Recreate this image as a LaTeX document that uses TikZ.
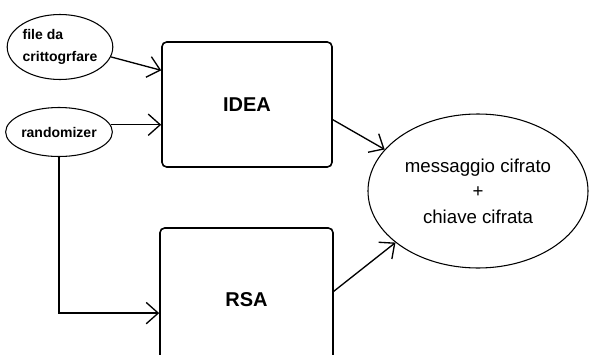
\documentclass[tikz,border=0pt]{standalone}
\usepackage{fontspec}
\setmainfont{Liberation Sans}
\usetikzlibrary{shapes.geometric,arrows.meta,calc}

\begin{document}
\begin{tikzpicture}[x=0.75pt, y=-0.75pt,
  blob/.style={ellipse, draw, line width=0.8pt, inner sep=0pt},
  blocco/.style={draw, line width=1.2pt, rounded corners=3.5pt, font=\bfseries\fontsize{15}{18}\selectfont},
  freccia/.style={line width=1pt, -{Straight Barb[length=9pt,width=16pt]}}]
  \clip (0,0) rectangle (589,354);

  \node[blob, minimum width=75pt, minimum height=48.75pt, align=left,
        font=\bfseries\fontsize{10.5}{16.5}\selectfont] (file) at (60,47) {file da\\crittogrfare};
  \node[blob, minimum width=73.5pt, minimum height=36.75pt,
        font=\bfseries\fontsize{10.5}{13}\selectfont] (rand) at (59,132) {randomizer};

  \node[blocco, minimum width=127.5pt, minimum height=93.75pt] (idea) at (247,104.5) {IDEA};
  \node[blocco, minimum width=129.75pt, minimum height=108pt] (rsa) at (246.5,300) {RSA};

  \node[blob, minimum width=165pt, minimum height=115.5pt, align=center,
        font=\fontsize{14}{19}\selectfont] (msg) at (478,191) {messaggio cifrato\\+\\chiave cifrata};

  \draw[freccia] (file.-11) -- ($(idea.north west)!0.23!(idea.south west)$);
  \draw[freccia] (rand.8) -- (rand.8 -| idea.west);
  \draw[freccia] (rand.south) |- ($(rsa.north west)!0.59!(rsa.south west)$);

  \draw[freccia] ($(idea.north east)!0.62!(idea.south east)$) -- (msg.156);
  \draw[freccia] ($(rsa.north east)!0.44!(rsa.south east)$) -- (msg.212);
\end{tikzpicture}
\end{document}
